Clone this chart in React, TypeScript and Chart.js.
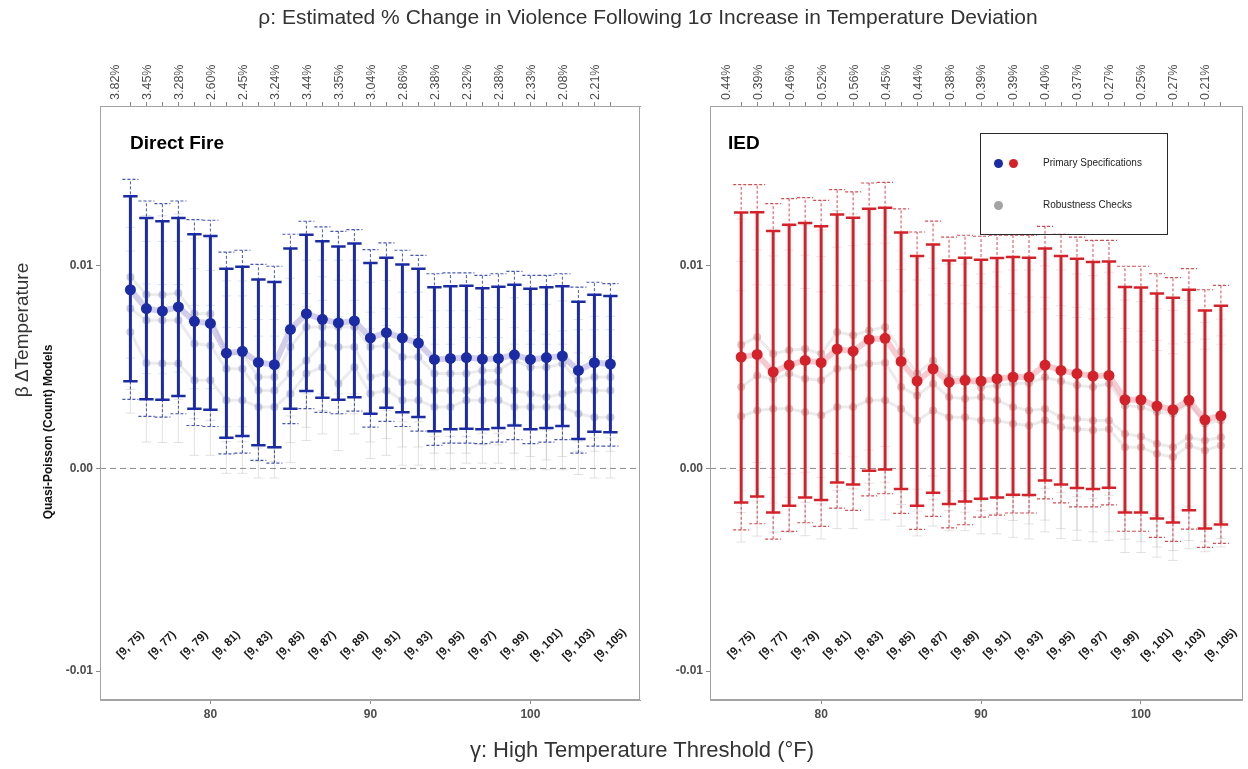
import React, { useEffect, useRef } from 'react';
import { Chart, registerables } from 'chart.js';

Chart.register(...registerables);

const FONT = '"Liberation Sans", Arial, Helvetica, sans-serif';

// ---------------- data ----------------
const thresholds = [75, 76, 77, 78, 79, 80, 81, 82, 83, 84, 85, 86, 87, 88, 89, 90, 91, 92, 93, 94, 95, 96, 97, 98, 99, 100, 101, 102, 103, 104, 105];
const labelThresholds = [75, 77, 79, 81, 83, 85, 87, 89, 91, 93, 95, 97, 99, 101, 103, 105];
const windowLabels = ['[9, 75)', '[9, 77)', '[9, 79)', '[9, 81)', '[9, 83)', '[9, 85)', '[9, 87)', '[9, 89)', '[9, 91)', '[9, 93)', '[9, 95)', '[9, 97)', '[9, 99)', '[9, 101)', '[9, 103)', '[9, 105)'];
const xTickValues = [80, 90, 100];
const yTickValues = [-0.01, 0, 0.01];
const yTickLabels = ['-0.01', '0.00', '0.01'];

const directFirePct = ['3.82%', '3.45%', '3.28%', '2.60%', '2.45%', '3.24%', '3.44%', '3.35%', '3.04%', '2.86%', '2.38%', '2.32%', '2.38%', '2.33%', '2.08%', '2.21%'];
const iedPct = ['0.44%', '0.39%', '0.46%', '0.52%', '0.56%', '0.45%', '0.44%', '0.38%', '0.39%', '0.39%', '0.40%', '0.37%', '0.27%', '0.25%', '0.27%', '0.21%'];

// Direct Fire – primary specification
const dfEst = [0.00882, 0.00789, 0.00777, 0.00797, 0.00726, 0.00716, 0.00569, 0.00578, 0.00523, 0.00512, 0.00686, 0.00764, 0.00736, 0.00718, 0.00728, 0.00644, 0.0067, 0.00644, 0.00619, 0.00538, 0.00543, 0.00547, 0.0054, 0.00543, 0.00561, 0.00538, 0.00547, 0.00555, 0.00484, 0.00522, 0.00515];
const dfHi = [0.01343, 0.01236, 0.0122, 0.01236, 0.01156, 0.01147, 0.00986, 0.00996, 0.00933, 0.0092, 0.01085, 0.01154, 0.01121, 0.01096, 0.0111, 0.01014, 0.0104, 0.01007, 0.00986, 0.00894, 0.00899, 0.00902, 0.0089, 0.00897, 0.00907, 0.00887, 0.00894, 0.00899, 0.00823, 0.00857, 0.00851];
const dfLo = [0.0043, 0.00342, 0.00339, 0.00357, 0.00295, 0.0029, 0.00151, 0.0016, 0.00115, 0.00104, 0.00295, 0.00382, 0.00349, 0.00339, 0.00351, 0.0027, 0.003, 0.00277, 0.00254, 0.00183, 0.00194, 0.00196, 0.00194, 0.00199, 0.00212, 0.00194, 0.00199, 0.0021, 0.00145, 0.00181, 0.00179];
const dfOuterHi = [0.01427, 0.0132, 0.01307, 0.0132, 0.01228, 0.01225, 0.01068, 0.01077, 0.01007, 0.00998, 0.01156, 0.0122, 0.01192, 0.0117, 0.01179, 0.0108, 0.01113, 0.01077, 0.01052, 0.00961, 0.00965, 0.00965, 0.00953, 0.00961, 0.00973, 0.00953, 0.00953, 0.00961, 0.00895, 0.00919, 0.00912];
const dfOuterLo = [0.00341, 0.00257, 0.00253, 0.0027, 0.00212, 0.00207, 0.00072, 0.00076, 0.0004, 0.00026, 0.00221, 0.00295, 0.00277, 0.0027, 0.00283, 0.00204, 0.00232, 0.00207, 0.00184, 0.00114, 0.00125, 0.00125, 0.00122, 0.0013, 0.00142, 0.00122, 0.0013, 0.00142, 0.00076, 0.0011, 0.0011];
// Direct Fire – robustness checks
const dfRobA = [0.00945, 0.00858, 0.00857, 0.00866, 0.00764, 0.00764, 0.00566, 0.00566, 0.00451, 0.00451, 0.00599, 0.00698, 0.00698, 0.00698, 0.00698, 0.00599, 0.00607, 0.0055, 0.0055, 0.00468, 0.00468, 0.00468, 0.00484, 0.00484, 0.00533, 0.005, 0.005, 0.00517, 0.00435, 0.00451, 0.00451];
const dfRobB = [0.0079, 0.00731, 0.00731, 0.00731, 0.00616, 0.00607, 0.00492, 0.00492, 0.00385, 0.00385, 0.00468, 0.00533, 0.00616, 0.00599, 0.00599, 0.00451, 0.00468, 0.00426, 0.00426, 0.00385, 0.00385, 0.00385, 0.00426, 0.00426, 0.00385, 0.00369, 0.00352, 0.00369, 0.00385, 0.00385, 0.00385];
const dfRobC = [0.00673, 0.0052, 0.00518, 0.00518, 0.00435, 0.00435, 0.00336, 0.00336, 0.00303, 0.00303, 0.00369, 0.00468, 0.005, 0.00418, 0.005, 0.00369, 0.00385, 0.00336, 0.00336, 0.00303, 0.00303, 0.00336, 0.00336, 0.00336, 0.00303, 0.00303, 0.00303, 0.00303, 0.0027, 0.00253, 0.00253];
const dfRobHalfWidth = [0.004, 0.0039, 0.0039, 0.0039, 0.0037, 0.0037, 0.0036, 0.0036, 0.0035, 0.0035, 0.0034, 0.0033, 0.0033, 0.0033, 0.0033, 0.0032, 0.0032, 0.0032, 0.0032, 0.0031, 0.0031, 0.0031, 0.0031, 0.0031, 0.0031, 0.0031, 0.0031, 0.0031, 0.003, 0.003, 0.003];

// IED – primary specification
const iedEst = [0.0055, 0.00563, 0.00476, 0.0051, 0.00533, 0.00522, 0.00589, 0.00579, 0.00637, 0.00642, 0.00528, 0.00431, 0.00492, 0.00426, 0.00435, 0.00431, 0.00443, 0.00451, 0.00451, 0.0051, 0.00484, 0.00468, 0.00456, 0.00459, 0.00339, 0.00339, 0.00308, 0.0029, 0.00336, 0.0024, 0.0026];
const iedHi = [0.01263, 0.01264, 0.01172, 0.01203, 0.01212, 0.01195, 0.01253, 0.01238, 0.01282, 0.01287, 0.01164, 0.01049, 0.01105, 0.01027, 0.0104, 0.0103, 0.01039, 0.01044, 0.0104, 0.01085, 0.01049, 0.01035, 0.01019, 0.01022, 0.00895, 0.00893, 0.00863, 0.00843, 0.00882, 0.0078, 0.00803];
const iedLo = [-0.00168, -0.00138, -0.00217, -0.00184, -0.00143, -0.00156, -0.00069, -0.00079, -0.00011, -0.00005, -0.00102, -0.00184, -0.0012, -0.00176, -0.00163, -0.0015, -0.00144, -0.0013, -0.00131, -0.00059, -0.00079, -0.00097, -0.00102, -0.00095, -0.00217, -0.00217, -0.00247, -0.00267, -0.00207, -0.00296, -0.00277];
const iedOuterHi = [0.01401, 0.01401, 0.01307, 0.01332, 0.01337, 0.01323, 0.01376, 0.01365, 0.01409, 0.01412, 0.01281, 0.01167, 0.01221, 0.01142, 0.01151, 0.01146, 0.01151, 0.01151, 0.01151, 0.01195, 0.01156, 0.01142, 0.01126, 0.01126, 0.00998, 0.00998, 0.00961, 0.00942, 0.00986, 0.00882, 0.00904];
const iedOuterLo = [-0.00303, -0.00273, -0.00349, -0.00311, -0.00268, -0.00286, -0.00196, -0.00207, -0.00135, -0.00125, -0.00222, -0.00301, -0.00237, -0.00293, -0.00278, -0.0024, -0.0023, -0.0022, -0.0022, -0.0015, -0.0017, -0.0019, -0.0019, -0.0018, -0.0031, -0.0031, -0.0034, -0.0036, -0.003, -0.0039, -0.0037];
// IED – robustness checks
const iedRobA = [0.00611, 0.00649, 0.00566, 0.00583, 0.00591, 0.00566, 0.00673, 0.00657, 0.00681, 0.00698, 0.00578, 0.00468, 0.00533, 0.00449, 0.00449, 0.004, 0.0041, 0.0042, 0.0042, 0.0045, 0.0043, 0.0041, 0.00402, 0.00418, 0.00311, 0.00303, 0.00278, 0.0027, 0.0032, 0.0022, 0.00237];
const iedRobB = [0.00402, 0.00459, 0.00439, 0.00468, 0.00443, 0.00435, 0.00492, 0.005, 0.00517, 0.00522, 0.00402, 0.0036, 0.00418, 0.00352, 0.00344, 0.00352, 0.00336, 0.00303, 0.00286, 0.00295, 0.00253, 0.00245, 0.00237, 0.00237, 0.00171, 0.00158, 0.00122, 0.00105, 0.00154, 0.00138, 0.00154];
const iedRobC = [0.00257, 0.00286, 0.00295, 0.00295, 0.00278, 0.00262, 0.00303, 0.00303, 0.00336, 0.00336, 0.00295, 0.00237, 0.00286, 0.00253, 0.00253, 0.00237, 0.00237, 0.0022, 0.00212, 0.00237, 0.00204, 0.00195, 0.00188, 0.00195, 0.00105, 0.00105, 0.00072, 0.00056, 0.00113, 0.00089, 0.00113];
const iedRobHalfWidth = [0.0062, 0.0062, 0.0061, 0.0061, 0.0061, 0.0061, 0.006, 0.006, 0.0059, 0.0059, 0.0058, 0.0057, 0.0057, 0.0056, 0.0056, 0.0056, 0.0056, 0.0056, 0.0056, 0.0055, 0.0055, 0.0055, 0.0055, 0.0055, 0.0052, 0.0052, 0.0051, 0.0051, 0.0051, 0.005, 0.005];

// ---------------- styling / layout ----------------
const Y_MIN = -0.01143;
const Y_MAX = 0.01789;
const WINDOW_LABEL_Y = -0.0087;
const CANVAS_H = 769;

type Pt = { x: number; y: number | null };

function vSegments(xs: number[], lo: number[], hi: number[]): Pt[] {
  const out: Pt[] = [];
  xs.forEach((x, i) => {
    out.push({ x, y: lo[i] }, { x, y: hi[i] }, { x, y: null });
  });
  return out;
}
function hCaps(xs: number[], vals: number[], half: number): Pt[] {
  const out: Pt[] = [];
  xs.forEach((x, i) => {
    out.push({ x: x - half, y: vals[i] }, { x: x + half, y: vals[i] }, { x, y: null });
  });
  return out;
}
function pts(xs: number[], vals: number[]): Pt[] {
  return xs.map((x, i) => ({ x, y: vals[i] }));
}

type PanelSpec = {
  est: number[]; lo: number[]; hi: number[]; outerLo: number[]; outerHi: number[];
  rob: number[][]; robHalf: number[]; pct: string[];
  color: string; dashColor: string; pathColor: string;
  xMin: number; xMax: number; yAxisWidth: number; padRight: number;
};

function lineDs(data: Pt[], color: string, width: number, order: number, dash: number[] = []) {
  return {
    type: 'line', data, borderColor: color, borderWidth: width, borderDash: dash,
    pointRadius: 0, pointHoverRadius: 0, fill: false, tension: 0, spanGaps: false,
    borderCapStyle: 'butt', order,
  };
}
function pointDs(data: Pt[], color: string, radius: number, order: number) {
  return {
    type: 'line', data, showLine: false, pointRadius: radius, pointHoverRadius: radius,
    pointBackgroundColor: color, pointBorderWidth: 0, borderColor: color, order,
  };
}

function buildDatasets(p: PanelSpec) {
  const xs = thresholds;
  const ds: any[] = [];
  const grayBar = 'rgba(160,160,160,0.3)';
  p.rob.forEach((r) => {
    const lo = r.map((v, i) => v - p.robHalf[i]);
    const hi = r.map((v, i) => v + p.robHalf[i]);
    ds.push(lineDs(vSegments(xs, lo, hi), grayBar, 1, 10));
    ds.push(lineDs([...hCaps(xs, lo, 0.3), ...hCaps(xs, hi, 0.3)], grayBar, 1, 10));
    ds.push(lineDs(pts(xs, r), 'rgba(175,175,175,0.25)', 3, 9));
    ds.push(pointDs(pts(xs, r), 'rgba(150,150,150,0.5)', 4, 8));
  });
  // zero reference line
  ds.push(lineDs([{ x: p.xMin, y: 0 }, { x: p.xMax, y: 0 }], '#8a8a8a', 1, 6, [6, 4]));
  // outer (dashed) interval
  ds.push(lineDs(vSegments(xs, p.outerLo, p.outerHi), p.dashColor, 1, 5, [3, 2]));
  ds.push(lineDs([...hCaps(xs, p.outerLo, 0.5), ...hCaps(xs, p.outerHi, 0.5)], p.dashColor, 1.2, 5, [3, 2]));
  // connecting path of primary estimates
  ds.push(lineDs(pts(xs, p.est), p.pathColor, 6, 4));
  // primary interval
  ds.push(lineDs(vSegments(xs, p.lo, p.hi), p.color, 3, 3));
  ds.push(lineDs([...hCaps(xs, p.lo, 0.45), ...hCaps(xs, p.hi, 0.45)], p.color, 2.5, 3));
  // primary points
  ds.push(pointDs(pts(xs, p.est), p.color, 5.5, 1));
  return ds;
}

function extrasPlugin() {
  return {
    id: 'panelExtras',
    afterDatasetsDraw(chart: any) {
      const { ctx, scales } = chart;
      const y = scales.y.getPixelForValue(WINDOW_LABEL_Y);
      ctx.save();
      ctx.font = `bold 11.5px ${FONT}`;
      ctx.fillStyle = '#1a1a1a';
      ctx.textAlign = 'center';
      ctx.textBaseline = 'middle';
      windowLabels.forEach((t, i) => {
        const x = scales.x.getPixelForValue(labelThresholds[i]);
        ctx.save();
        ctx.translate(x, y);
        ctx.rotate(-Math.PI / 4);
        ctx.fillText(t, 0, 0);
        ctx.restore();
      });
      ctx.restore();
    },
    afterDraw(chart: any) {
      const { ctx, chartArea: a } = chart;
      ctx.save();
      ctx.strokeStyle = '#a3a3a3';
      ctx.lineWidth = 1;
      ctx.strokeRect(Math.round(a.left) + 0.5, Math.round(a.top) + 0.5, Math.round(a.right - a.left) - 1, Math.round(a.bottom - a.top) - 1);
      ctx.restore();
    },
  };
}

function makeConfig(p: PanelSpec): any {
  const pctMap = new Map<number, string>();
  labelThresholds.forEach((t, i) => pctMap.set(t, p.pct[i]));
  const gridOpts = { display: true, drawOnChartArea: false, drawTicks: true, tickLength: 4, color: '#8c8c8c', lineWidth: 1 };
  const borderOpts = { display: true, color: '#a3a3a3', width: 1 };
  return {
    type: 'line',
    data: { datasets: buildDatasets(p) },
    plugins: [extrasPlugin()],
    options: {
      responsive: false,
      animation: false,
      events: [],
      devicePixelRatio: 1,
      layout: { padding: { left: 0, right: p.padRight, top: 0, bottom: 0 } },
      plugins: { legend: { display: false }, tooltip: { enabled: false }, title: { display: false } },
      scales: {
        x: {
          type: 'linear', position: 'bottom', min: p.xMin, max: p.xMax,
          afterBuildTicks: (s: any) => { s.ticks = xTickValues.map((v) => ({ value: v })); },
          afterFit: (s: any) => { s.height = CANVAS_H - 700; s.paddingLeft = 0; s.paddingRight = 0; },
          grid: gridOpts, border: borderOpts,
          ticks: {
            autoSkip: false, maxRotation: 0, minRotation: 0, padding: 3, color: '#4d4d4d',
            font: { family: FONT, size: 12, weight: 'bold' },
            callback: (v: number) => String(v),
          },
        },
        x2: {
          type: 'linear', position: 'top', min: p.xMin, max: p.xMax,
          afterBuildTicks: (s: any) => { s.ticks = thresholds.map((v) => ({ value: v })); },
          afterFit: (s: any) => { s.height = 106; s.paddingLeft = 0; s.paddingRight = 0; },
          grid: gridOpts, border: borderOpts,
          ticks: {
            autoSkip: false, maxRotation: 90, minRotation: 90, padding: 2, color: '#4d4d4d',
            font: { family: FONT, size: 12.5 },
            callback: (v: number) => pctMap.get(v) ?? '',
          },
        },
        y: {
          type: 'linear', position: 'left', min: Y_MIN, max: Y_MAX,
          afterBuildTicks: (s: any) => { s.ticks = yTickValues.map((v) => ({ value: v })); },
          afterFit: (s: any) => { s.width = p.yAxisWidth; s.paddingTop = 0; s.paddingBottom = 0; },
          grid: gridOpts, border: borderOpts,
          ticks: {
            padding: 3, color: '#4d4d4d',
            font: { family: FONT, size: 12, weight: 'bold' },
            callback: (v: number) => yTickLabels[yTickValues.indexOf(v)] ?? '',
          },
        },
      },
    },
  };
}

const directFire: PanelSpec = {
  est: dfEst, lo: dfLo, hi: dfHi, outerLo: dfOuterLo, outerHi: dfOuterHi,
  rob: [dfRobA, dfRobB, dfRobC], robHalf: dfRobHalfWidth, pct: directFirePct,
  color: '#1b2ba3', dashColor: 'rgba(40,55,170,0.85)', pathColor: 'rgba(165,155,210,0.5)',
  xMin: 73.1, xMax: 106.85, yAxisWidth: 100, padRight: 10,
};
const ied: PanelSpec = {
  est: iedEst, lo: iedLo, hi: iedHi, outerLo: iedOuterLo, outerHi: iedOuterHi,
  rob: [iedRobA, iedRobB, iedRobC], robHalf: iedRobHalfWidth, pct: iedPct,
  color: '#d3222a', dashColor: 'rgba(210,45,50,0.85)', pathColor: 'rgba(230,140,150,0.45)',
  xMin: 73.05, xMax: 106.35, yAxisWidth: 60, padRight: 5,
};

function Panel({ spec, left, width }: { spec: PanelSpec; left: number; width: number }) {
  const ref = useRef<HTMLCanvasElement | null>(null);
  useEffect(() => {
    if (!ref.current) return;
    const chart = new Chart(ref.current, makeConfig(spec));
    return () => chart.destroy();
  }, [spec]);
  return (
    <canvas
      ref={ref}
      width={width}
      height={CANVAS_H}
      style={{ position: 'absolute', left, top: 0, width, height: CANVAS_H, display: 'block' }}
    />
  );
}

const textBase: React.CSSProperties = { position: 'absolute', fontFamily: FONT, whiteSpace: 'nowrap' };

function Dot({ x, y, color }: { x: number; y: number; color: string }) {
  const r = 4.5;
  return <div style={{ position: 'absolute', left: x - r, top: y - r, width: 2 * r, height: 2 * r, borderRadius: '50%', background: color }} />;
}

export default function App() {
  return (
    <div style={{ position: 'fixed', left: 0, top: 0, width: 1248, height: 769, background: '#fff', overflow: 'hidden' }}>
      <Panel spec={directFire} left={0} width={650} />
      <Panel spec={ied} left={650} width={598} />

      <div style={{ ...textBase, left: 24, width: 1248, top: 5, textAlign: 'center', fontSize: 21, color: '#333' }}>
        ρ: Estimated % Change in Violence Following 1σ Increase in Temperature Deviation
      </div>
      <div style={{ ...textBase, left: 18, width: 1248, top: 737, textAlign: 'center', fontSize: 22, color: '#333' }}>
        γ: High Temperature Threshold (°F)
      </div>
      <div style={{ ...textBase, left: 22, top: 330, transform: 'translate(-50%, -50%) rotate(-90deg)', fontSize: 19, color: '#333' }}>
        β ΔTemperature
      </div>
      <div style={{ ...textBase, left: 48, top: 432, transform: 'translate(-50%, -50%) rotate(-90deg)', fontSize: 12, fontWeight: 'bold', color: '#111' }}>
        Quasi-Poisson (Count) Models
      </div>

      <div style={{ ...textBase, left: 130, top: 132, fontSize: 19, fontWeight: 'bold', color: '#000' }}>Direct Fire</div>
      <div style={{ ...textBase, left: 728, top: 132, fontSize: 19, fontWeight: 'bold', color: '#000' }}>IED</div>

      <div style={{ position: 'absolute', left: 980, top: 133, width: 186, height: 100, border: '1.5px solid #2a2a2a' }} />
      <Dot x={998} y={163} color="#1b2ba3" />
      <Dot x={1013} y={163} color="#d3222a" />
      <Dot x={998} y={205} color="#a3a3a3" />
      <div style={{ ...textBase, left: 1043, top: 157, fontSize: 10, color: '#222' }}>Primary Specifications</div>
      <div style={{ ...textBase, left: 1043, top: 199, fontSize: 10, color: '#222' }}>Robustness Checks</div>
    </div>
  );
}
